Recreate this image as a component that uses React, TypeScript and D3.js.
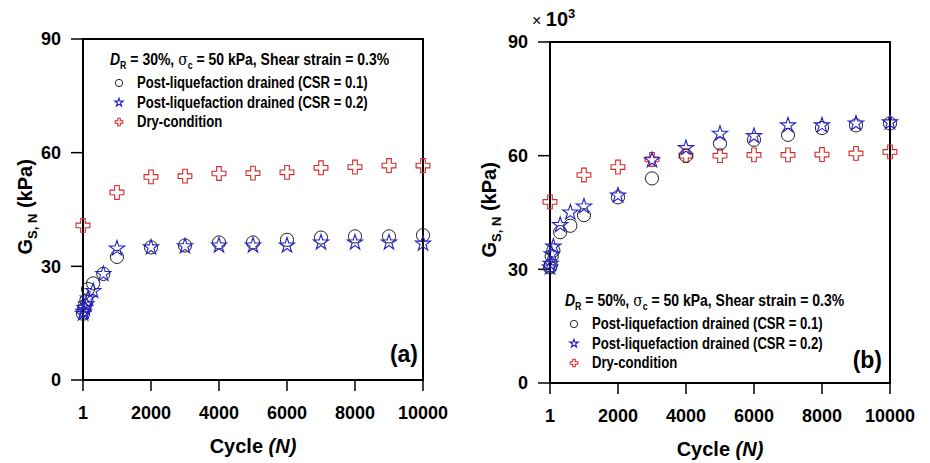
import React from 'react';
import * as d3 from 'd3';

// cycle numbers
const cyclesEarly = [1, 20, 50, 100, 150, 300, 600];
const cyclesEarlyB = [1, 20, 50, 100, 300, 600];
const cyclesLate = [1000, 2000, 3000, 4000, 5000, 6000, 7000, 8000, 9000, 10000];
const cyclesDry = [1, 1000, 2000, 3000, 4000, 5000, 6000, 7000, 8000, 9000, 10000];

// panel (a): DR = 30%
const aCsr01 = [17.5, 18.5, 19.5, 21, 24, 25.5, 28, 32.5, 35, 35.5, 36.3, 36.3, 37, 37.6, 37.9, 37.9, 38.2];
const aCsr02 = [17.5, 18, 19, 20, 21.5, 23.5, 28, 34.7, 35, 35.3, 35.5, 35.5, 35.5, 36.3, 36.3, 36.3, 36];
const aDry = [40.8, 49.5, 53.6, 53.8, 54.5, 54.6, 54.8, 56, 56.2, 56.6, 56.6];

// panel (b): DR = 50%
const bCsr01 = [30.5, 31, 33.5, 35, 39.8, 41.5, 44.3, 49, 54, 60, 63.2, 64.2, 65.5, 67.3, 68, 68.5];
const bCsr02 = [30.5, 31.5, 34, 36, 41.7, 45, 46.6, 49.5, 58.8, 62, 65.8, 65.2, 68, 68, 68.5, 68.8];
const bDry = [47.8, 54.9, 57, 59, 60, 60, 60.2, 60.2, 60.3, 60.6, 61];

const xTicks = [1, 2000, 4000, 6000, 8000, 10000];
const yTicks = [0, 30, 60, 90];
const legendLabels = [
  'Post-liquefaction drained (CSR = 0.1)',
  'Post-liquefaction drained (CSR = 0.2)',
  'Dry-condition',
];

const BLUE = '#2323c8';
const RED = '#d42a2a';
const FONT = 'Arial, "Liberation Sans", Helvetica, sans-serif';
const NARROW_SCALE = 0.82; // legend text is set in a condensed face

const starPath = (r: number) => d3.symbol(d3.symbolStar, (r * r) / 0.8908130915292852)()!;
const crossPath = (r: number) => d3.symbol(d3.symbolCross, (2 * r) * (2 * r) * 5)()!;

type Pt = [number, number];
const zip = (xs: number[], ys: number[]): Pt[] => xs.map((x, i) => [x, ys[i]]);

function Marker({ kind, x, y, s = 1 }: { kind: string; x: number; y: number; s?: number }) {
  if (kind === 'circle')
    return <circle cx={x} cy={y} r={6.6 * s} fill="none" stroke="#222" strokeWidth={1} />;
  if (kind === 'star')
    return <path d={starPath(8 * s)} transform={`translate(${x},${y})`} fill="none" stroke={BLUE} strokeWidth={1.1} />;
  return <path d={crossPath(2.3 * s)} transform={`translate(${x},${y})`} fill="none" stroke={RED} strokeWidth={1.1} />;
}

interface PanelProps {
  left: number; right: number; top: number; bottom: number;
  csr01: Pt[]; csr02: Pt[]; dry: Pt[];
  tag: string; dr: string;
  legendX: number; legendY: number;
  tagX: number; tagY: number;
  yLabelX: number; exponent?: boolean;
}

function Panel(p: PanelProps) {
  const x = d3.scaleLinear().domain([1, 10000]).range([p.left, p.right]);
  const y = d3.scaleLinear().domain([0, 90]).range([p.bottom, p.top]);
  const yMid = (p.top + p.bottom) / 2 + 45;
  const lx = p.legendX, ly = p.legendY;
  return (
    <g fontFamily={FONT} fontWeight="bold">
      {/* frame */}
      <rect x={p.left} y={p.top} width={p.right - p.left} height={p.bottom - p.top} fill="none" stroke="#000" strokeWidth={2} />
      {/* y axis */}
      {yTicks.map(t => (
        <g key={t}>
          <line x1={p.left - 12} x2={p.left} y1={y(t)} y2={y(t)} stroke="#000" strokeWidth={1.5} />
          <text x={p.left - 22} y={y(t)} dy="0.35em" textAnchor="end" fontSize={18}>{t}</text>
        </g>
      ))}
      {/* x axis */}
      {xTicks.map(t => (
        <g key={t}>
          <line x1={x(t)} x2={x(t)} y1={p.bottom} y2={p.bottom + 11} stroke="#000" strokeWidth={1.5} />
          <text x={x(t)} y={p.bottom + 39} textAnchor="middle" fontSize={18}>{t}</text>
        </g>
      ))}
      <text x={(p.left + p.right) / 2} y={p.bottom + 73} textAnchor="middle" fontSize={20}>
        Cycle <tspan fontStyle="italic">(N)</tspan>
      </text>
      <text transform={`translate(${p.yLabelX},${yMid}) rotate(-90)`} fontSize={20}>
        G<tspan fontSize={13} dy={5}>S, N</tspan><tspan dy={-5}> (kPa)</tspan>
      </text>
      {p.exponent && (
        <text x={p.left - 18} y={p.top - 16}>
          <tspan fontWeight="normal" fontSize={16}>× </tspan>
          <tspan fontSize={20}>10</tspan>
          <tspan fontSize={13} dy={-8}>3</tspan>
        </text>
      )}
      {/* data */}
      {p.dry.map(([n, v], i) => <Marker key={'d' + i} kind="cross" x={x(n)} y={y(v)} />)}
      {p.csr01.map(([n, v], i) => <Marker key={'c' + i} kind="circle" x={x(n)} y={y(v)} />)}
      {p.csr02.map(([n, v], i) => <Marker key={'s' + i} kind="star" x={x(n)} y={y(v)} />)}
      {/* legend */}
      <g fontSize={16}>
        <text transform={`translate(${lx},${ly}) scale(0.875,1)`}>
          <tspan fontStyle="italic">D</tspan><tspan fontSize={10} dy={4}>R</tspan>
          <tspan dy={-4}> = {p.dr}, </tspan><tspan fontFamily="'DejaVu Serif', serif" fontWeight="normal">σ</tspan>
          <tspan fontSize={10} dy={4}>c</tspan><tspan dy={-4}> = 50 kPa, Shear strain = 0.3%</tspan>
        </text>
        {legendLabels.map((l, i) => (
          <g key={l}>
            <Marker kind={['circle', 'star', 'cross'][i]} x={lx + 9} y={ly + 18 + i * 19.5} s={0.55} />
            <text transform={`translate(${lx + 27},${ly + 23 + i * 19.5}) scale(${NARROW_SCALE},1)`}>{l}</text>
          </g>
        ))}
      </g>
      <text x={p.tagX} y={p.tagY} textAnchor="end" fontSize={23}>{p.tag}</text>
    </g>
  );
}

export default function App() {
  return (
    <svg width={930} height={463} style={{ display: 'block', position: 'absolute', left: 0, top: 0 }}>
      <rect width={930} height={463} fill="#fff" />
      <Panel left={83} right={423} top={39} bottom={380}
        csr01={zip([...cyclesEarly, ...cyclesLate], aCsr01)}
        csr02={zip([...cyclesEarly, ...cyclesLate], aCsr02)}
        dry={zip(cyclesDry, aDry)}
        tag="(a)" dr="30%" legendX={110} legendY={65}
        tagX={418} tagY={362} yLabelX={32} />
      <Panel left={550} right={890} top={42} bottom={383}
        csr01={zip([...cyclesEarlyB, ...cyclesLate], bCsr01)}
        csr02={zip([...cyclesEarlyB, ...cyclesLate], bCsr02)}
        dry={zip(cyclesDry, bDry)}
        tag="(b)" dr="50%" legendX={565} legendY={306}
        tagX={882} tagY={368} yLabelX={496} exponent />
    </svg>
  );
}
